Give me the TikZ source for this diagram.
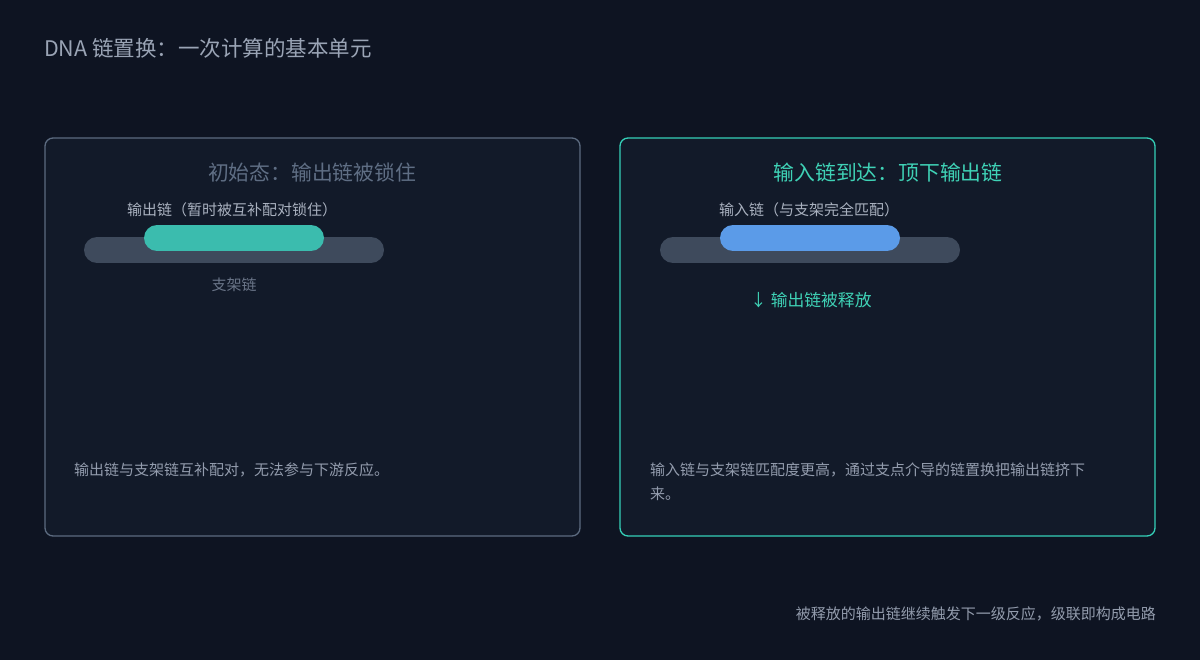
\documentclass[tikz,border=0pt]{standalone}
\usepackage{fontspec}
\setmainfont{Noto Sans CJK SC}
\usepackage{tikz}

\definecolor{bgnavy}{HTML}{0E1422}
\definecolor{panelfill}{HTML}{121A29}
\definecolor{greyedge}{HTML}{5C6B80}
\definecolor{tealedge}{HTML}{35D0B8}
\definecolor{titlegrey}{HTML}{9AA4B5}
\definecolor{dimtitle}{HTML}{5F6E84}
\definecolor{labelgrey}{HTML}{A9B1BF}
\definecolor{scaffold}{HTML}{3E4A5C}
\definecolor{outstrand}{HTML}{3BBCAE}
\definecolor{instrand}{HTML}{5B9BE8}
\definecolor{subgrey}{HTML}{6A7588}
\definecolor{bodygrey}{HTML}{939CAD}
\definecolor{tealtext}{HTML}{3FD2B6}

\tikzset{
  panel/.style={rounded corners=8pt, line width=1.3pt, fill=panelfill},
  strand/.style={line width=26pt, line cap=round},
  bigtitle/.style={font=\fontsize{20.8}{24}\selectfont, inner sep=0pt},
  smalllabel/.style={font=\fontsize{15}{18}\selectfont, inner sep=0pt, text=labelgrey},
  bodytext/.style={font=\fontsize{15}{24}\selectfont, inner sep=0pt, text=bodygrey, align=left, anchor=north west}
}

\begin{document}
\begin{tikzpicture}[x=1pt,y=-1pt]
                \pgfmathsetmacro{\lx}{45}
                \pgfmathsetmacro{\rx}{620}
                \pgfmathsetmacro{\pw}{535}
                \pgfmathsetmacro{\pt}{138}
                \pgfmathsetmacro{\pb}{536}

                \fill[bgnavy] (0,0) rectangle (1200,660);
                \useasboundingbox (0,0) rectangle (1200,660);

		\node[anchor=west, inner sep=0pt, text=titlegrey, font=\fontsize{21.5}{24}\selectfont] (maintitle) at (44,48) {DNA 链置换：一次计算的基本单元};

		% left panel: locked state
		\draw[panel, draw=greyedge] (\lx,\pt) rectangle (\lx+\pw,\pb);
		\node[bigtitle, text=dimtitle] (lefttitle) at (312,173) {初始态：输出链被锁住};
		\node[smalllabel] (outlabel) at (232,210) {输出链（暂时被互补配对锁住）};
		\draw[strand, scaffold] (97,250) -- (371,250);
		\draw[strand, outstrand] (157,238) -- (311,238);
		\node[smalllabel, text=subgrey] (scaflabel) at (234,285) {支架链};
		\node[bodytext] (leftbody) at (74,463) {输出链与支架链互补配对，无法参与下游反应。};

		% right panel: input arrives
		\draw[panel, draw=tealedge] (\rx,\pt) rectangle (\rx+\pw,\pb);
		\node[bigtitle, text=tealtext] (righttitle) at (888,173) {输入链到达：顶下输出链};
		\node[smalllabel] (inlabel) at (809,210) {输入链（与支架完全匹配）};
		\draw[strand, scaffold] (673,250) -- (947,250);
		\draw[strand, instrand] (733,238) -- (887,238);
		\node[anchor=west, inner sep=0pt, text=tealtext, font=\fontsize{16.8}{20}\selectfont] (released) at (750,300) {↓ 输出链被释放};
		\node[bodytext] (rightbody) at (650,463) {输入链与支架链匹配度更高，通过支点介导的链置换把输出链挤下\\来。};

		\node[anchor=east, inner sep=0pt, text=bodygrey, font=\fontsize{15}{18}\selectfont] (footer) at (1156,614) {被释放的输出链继续触发下一级反应，级联即构成电路};

        \end{tikzpicture}
\end{document}
